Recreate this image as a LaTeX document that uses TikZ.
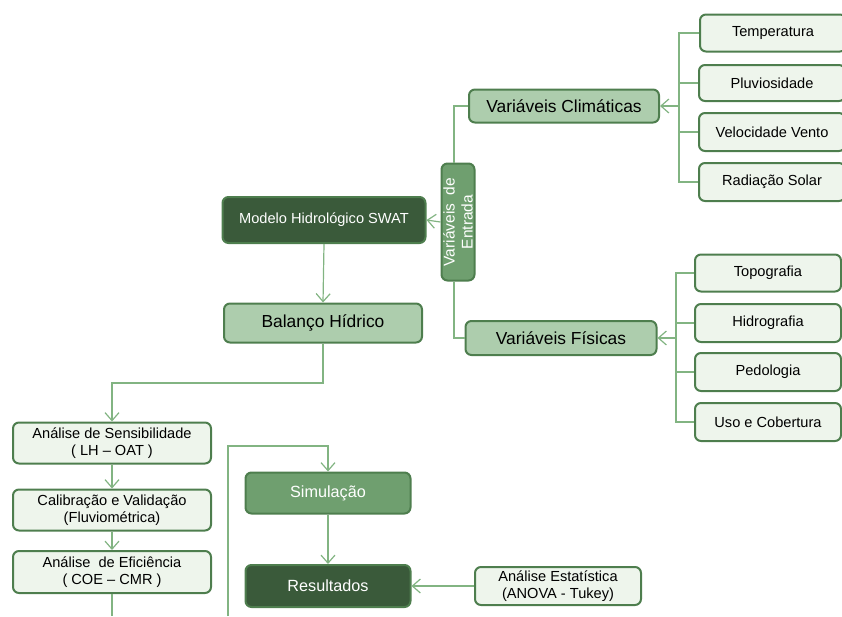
\documentclass[tikz,border=0pt]{standalone}
\usepackage{fontspec}
\setmainfont{Liberation Sans}
\usetikzlibrary{arrows.meta}
\definecolor{bord}{HTML}{4E7E4E}
\definecolor{lfill}{HTML}{EEF5EC}
\definecolor{mfill}{HTML}{ADCDAD}
\definecolor{gfill}{HTML}{6F9F6F}
\definecolor{dfill}{HTML}{3A5A3A}
\definecolor{conn}{HTML}{82B482}
\tikzset{
  box/.style={draw=bord, line width=2pt, rounded corners=6pt, inner sep=0pt, align=center},
  leaf/.style={box, fill=lfill, font=\fontsize{14.6}{17}\selectfont, text=black},
  midbox/.style={box, fill=mfill, font=\fontsize{17.4}{20}\selectfont, text=black},
  greenbox/.style={box, fill=gfill, text=white},
  darkbox/.style={box, fill=dfill, text=white},
  link/.style={draw=conn, line width=1.2pt},
  arr/.style={link, -{Straight Barb[length=8pt,width=14pt,line width=1.2pt]}},
}
\begin{document}
\begin{tikzpicture}[x=1pt,y=-1pt]
\useasboundingbox (0,0) rectangle (842,616);
% climatic leaves
\node[leaf, minimum width=146pt, minimum height=37pt] (temp) at (773,33) {Temperatura};
\node[leaf, minimum width=146pt, minimum height=36pt] (pluv) at (772,83) {Pluviosidade};
\node[leaf, minimum width=146pt, minimum height=38pt] (velo) at (772,132) {Velocidade Vento};
\node[leaf, minimum width=146pt, minimum height=38pt] (radi) at (772,182) {Radiação Solar};
\node[midbox, minimum width=190pt, minimum height=33pt] (clim) at (564,106) {Variáveis Climáticas};
% physical leaves
\node[leaf, minimum width=146pt, minimum height=37pt] (topo) at (768,273) {Topografia};
\node[leaf, minimum width=146pt, minimum height=38pt] (hidr) at (768,323) {Hidrografia};
\node[leaf, minimum width=146pt, minimum height=38pt] (pedo) at (768,372) {Pedologia};
\node[leaf, minimum width=146pt, minimum height=38pt] (uso) at (768,422) {Uso e Cobertura};
\node[midbox, minimum width=191pt, minimum height=34pt] (fis) at (561,338) {Variáveis Físicas};
% entrada
\node[greenbox, minimum width=117pt, minimum height=33pt, rotate=90, font=\fontsize{15.5}{18}\selectfont] (entr) at (458,222) {Variáveis\ \ de\\Entrada};
% model
\node[darkbox, minimum width=203pt, minimum height=46pt, font=\fontsize{14.6}{17}\selectfont] (swat) at (324,220) {Modelo Hidrológico SWAT};
\node[midbox, minimum width=198pt, minimum height=39pt] (bal) at (323,323) {Balanço Hídrico};
% left column
\node[leaf, minimum width=198pt, minimum height=41pt] (sens) at (112,443) {Análise de Sensibilidade\\( LH – OAT )};
\node[leaf, minimum width=198pt, minimum height=41pt] (cali) at (112,510) {Calibração e Validação\\(Fluviométrica)};
\node[leaf, minimum width=198pt, minimum height=42pt] (efic) at (112,572) {Análise\ \ de Eficiência\\( COE – CMR )};
% simulation
\node[greenbox, minimum width=165pt, minimum height=41pt, font=\fontsize{16.2}{19}\selectfont] (simu) at (328,493) {Simulação};
\node[darkbox, minimum width=165pt, minimum height=42pt, font=\fontsize{16.2}{19}\selectfont] (resu) at (328,586) {Resultados};
\node[leaf, minimum width=166pt, minimum height=38pt] (esta) at (558,586) {Análise Estatística\\(ANOVA - Tukey)};
% connectors
\coordinate (tc) at (679,106);
\coordinate (pc) at (676,338);
\draw[link] (temp.west) -| (tc);
\draw[link] (pluv.west) -| (tc);
\draw[link] (velo.west) -| (tc);
\draw[link] (radi.west) -| (tc);
\draw[arr] (tc) -- (clim.east);
\draw[link] (topo.west) -| (pc);
\draw[link] (hidr.west) -| (pc);
\draw[link] (pedo.west) -| (pc);
\draw[link] (uso.west) -| (pc);
\draw[arr] (pc) -- (fis.east);
\draw[link] ([xshift=-4pt]entr.east) |- (clim.west);
\draw[link] ([xshift=-4pt]entr.west) |- (fis.west);
\draw[arr] (entr.north) -- (swat.east);
\draw[arr] (swat.south) -- (bal.north);
\coordinate (bend) at (112,383);
\draw[arr] (bal.south) |- (bend) -- (sens.north);
\draw[arr] (sens.south) -- (cali.north);
\draw[arr] (cali.south) -- (efic.north);
\coordinate (effoot) at (112,616);
\draw[link] (efic.south) -- (effoot);
\coordinate (lfoot) at (228,616);
\coordinate (ltop) at (228,446);
\draw[arr] (lfoot) -- (ltop) -| (simu.north);
\draw[arr] (simu.south) -- (resu.north);
\draw[arr] (esta.west) -- (resu.east);
\end{tikzpicture}
\end{document}
